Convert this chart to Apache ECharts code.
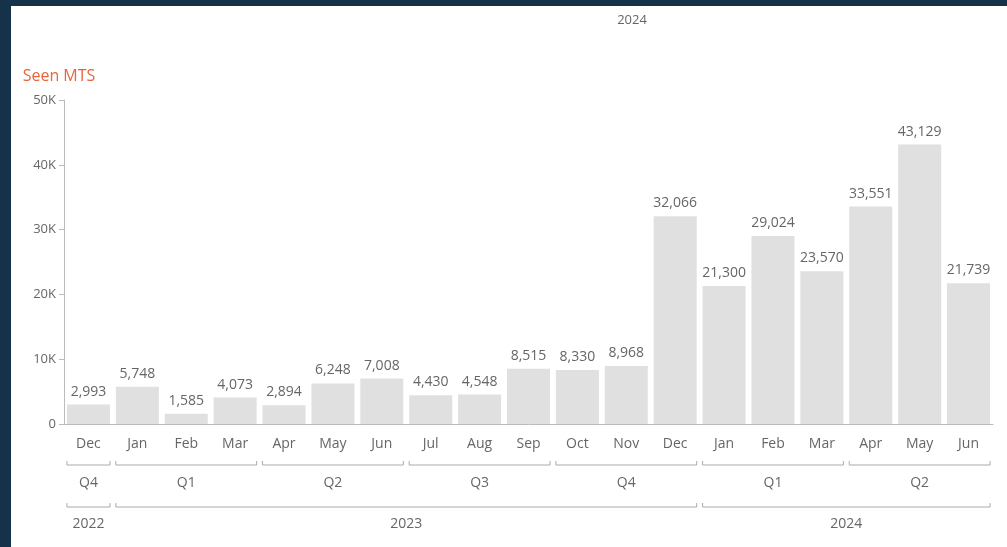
<!DOCTYPE html>
<html>
<head>
    <meta charset="utf-8">
    <title>Seen MTS</title>
    <script src="https://cdn.jsdelivr.net/npm/echarts@6/dist/echarts.min.js"></script>
    <style>
        html, body { margin: 0; padding: 0; background: #16324a; overflow: hidden; }
        #chartmain { position: absolute; left: 11px; top: 6px; width: 996px; height: 541px; background: #fff; }
    </style>
</head>
<body>
<div id="chartmain"></div>
<script type="text/javascript">
    // months (x axis)
    var months = ['Dec', 'Jan', 'Feb', 'Mar', 'Apr', 'May', 'Jun', 'Jul', 'Aug', 'Sep', 'Oct', 'Nov', 'Dec',
        'Jan', 'Feb', 'Mar', 'Apr', 'May', 'Jun'];
    var seenMts = [2993, 5748, 1585, 4073, 2894, 6248, 7008, 4430, 4548, 8515, 8330, 8968, 32066,
        21300, 29024, 23570, 33551, 43129, 21739];
    // hierarchy groups: [label, first month index, last month index]
    var quarters = [['Q4', 0, 0], ['Q1', 1, 3], ['Q2', 4, 6], ['Q3', 7, 9], ['Q4', 10, 12], ['Q1', 13, 15], ['Q2', 16, 18]];
    var years = [['2022', 0, 0], ['2023', 1, 12], ['2024', 13, 18]];
    var yTicks = [0, 10000, 20000, 30000, 40000, 50000];

    var FONT = '"Open Sans", "DejaVu Sans", sans-serif';
    var GREY = '#666';

    function fmtK(v) { return v === 0 ? '0' : (v / 1000) + 'K'; }

    var groupData = [];
    quarters.forEach(function (q) { groupData.push({ name: q[0], value: [q[1], q[2], 0] }); });
    years.forEach(function (y) { groupData.push({ name: y[0], value: [y[1], y[2], 1] }); });

    function renderBracket(params, api) {
        var a = api.coord([api.value(0), 0]);
        var b = api.coord([api.value(1), 0]);
        var band = api.size([1, 0])[0];
        var level = api.value(2);
        var x1 = a[0] - band * 0.44;
        var x2 = b[0] + band * 0.44;
        var ly = a[1] + (level === 0 ? 41 : 83);
        var ty = a[1] + (level === 0 ? 59 : 100);
        return {
            type: 'group',
            children: [{
                type: 'polyline',
                shape: { points: [[x1, ly - 4], [x1, ly], [x2, ly], [x2, ly - 4]] },
                style: { stroke: '#aaa', lineWidth: 1, fill: null }
            }, {
                type: 'text',
                style: {
                    text: groupData[params.dataIndex].name,
                    x: (x1 + x2) / 2, y: ty,
                    align: 'center', verticalAlign: 'middle',
                    fill: GREY, font: '14px ' + FONT
                }
            }]
        };
    }

    var myChart = echarts.init(document.getElementById('chartmain'));
    myChart.setOption({
        animation: false,
        textStyle: { fontFamily: FONT },
        title: {
            text: '2024', left: 616, top: 3, textAlign: 'center',
            textStyle: { color: GREY, fontSize: 13, fontWeight: 'normal', fontFamily: FONT }
        },
        grid: { left: 53, right: 14, top: 94, bottom: 123, containLabel: false },
        xAxis: {
            type: 'category',
            data: months,
            axisLine: { lineStyle: { color: '#bbb' } },
            axisTick: { alignWithLabel: true, length: 5, lineStyle: { color: '#bbb' } },
            axisLabel: { color: GREY, fontSize: 14, margin: 13, fontFamily: FONT }
        },
        yAxis: {
            type: 'value',
            min: 0, max: 50000, interval: 10000,
            name: 'Seen MTS',
            nameLocation: 'end',
            nameGap: 16,
            nameTextStyle: { color: '#e8643a', fontSize: 16, fontFamily: FONT, padding: [0, 10, 0, 0] },
            axisLine: { show: true, lineStyle: { color: '#bbb' } },
            axisTick: { show: true, length: 5, lineStyle: { color: '#bbb' } },
            splitLine: { show: false },
            axisLabel: {
                color: GREY, fontSize: 13, margin: 8, fontFamily: FONT,
                formatter: function (v) { return yTicks.indexOf(v) >= 0 ? fmtK(v) : ''; }
            }
        },
        series: [{
            name: 'Seen MTS',
            type: 'bar',
            data: seenMts,
            barCategoryGap: '12%',
            itemStyle: { color: '#e0e0e0' },
            label: {
                show: true, position: 'top', distance: 6,
                color: GREY, fontSize: 14, fontFamily: FONT,
                formatter: function (p) { return p.value.toLocaleString('en-US'); }
            }
        }, {
            type: 'custom',
            silent: true,
            clip: false,
            renderItem: renderBracket,
            data: groupData,
            z: 3
        }]
    });
</script>
</body>
</html>
